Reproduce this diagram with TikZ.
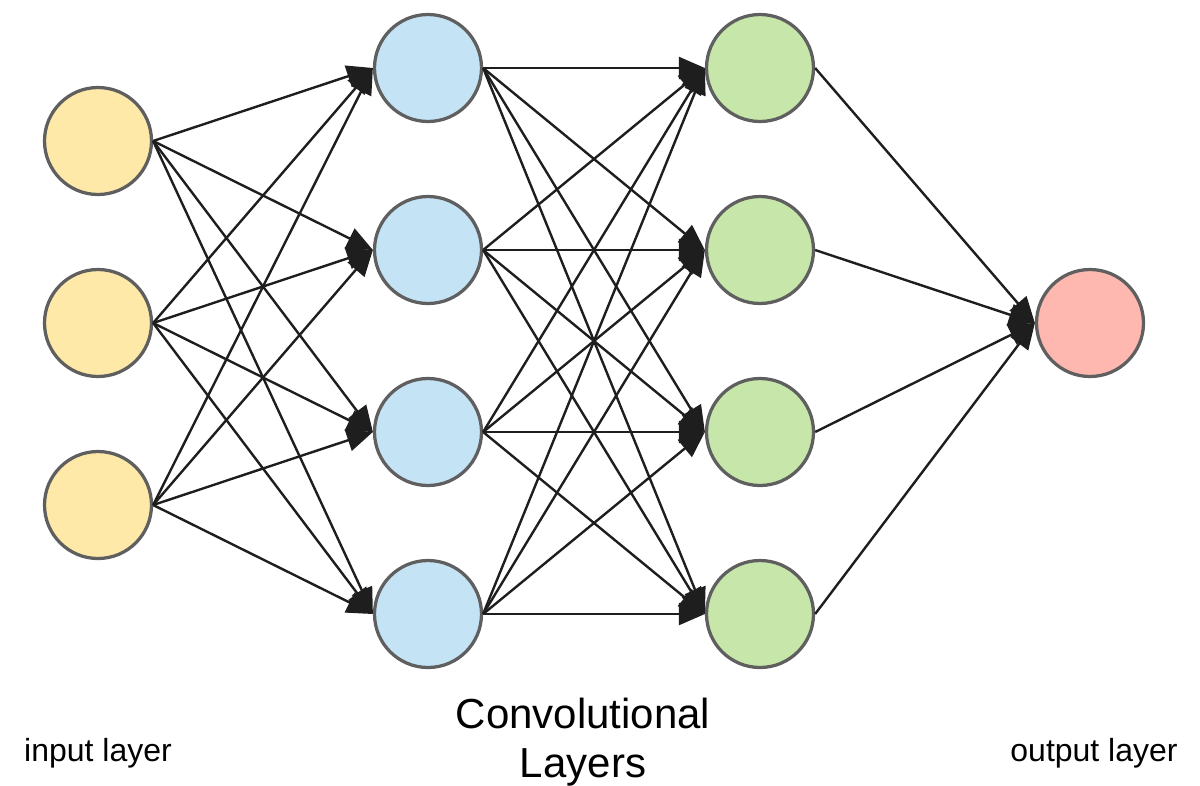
\documentclass[tikz,border=0pt]{standalone}
\usepackage{fontspec}
\setmainfont{Liberation Sans}
\usepackage{xcolor}
\usepackage{tikz}
\usetikzlibrary{arrows.meta}

\definecolor{inyellow}{HTML}{FEE9A8}
\definecolor{convblue}{HTML}{C4E3F5}
\definecolor{convgreen}{HTML}{C6E6AA}
\definecolor{outred}{HTML}{FFB8B0}
\definecolor{rimgray}{HTML}{5F5F5F}
\definecolor{wiredark}{HTML}{1E1E1E}

\tikzset{
  neuron/.style={circle, draw=rimgray, line width=0.065cm, minimum size=2.14cm, inner sep=0pt},
  wire/.style={draw=wiredark, line width=0.048cm, -{Triangle[length=0.52cm, width=0.44cm]}},
  lbl/.style={anchor=base, font=\fontsize{18.2}{22}\selectfont},
  biglbl/.style={anchor=base, font=\fontsize{23.9}{28}\selectfont}
}

\begin{document}
\begin{tikzpicture}
  \useasboundingbox (0,0) rectangle (24,-15.7);
  % input layer
  \node[neuron, fill=inyellow] (in1) at (1.96,-2.82) {};
  \node[neuron, fill=inyellow] (in2) at (1.96,-6.46) {};
  \node[neuron, fill=inyellow] (in3) at (1.96,-10.1) {};
  % convolutional layers
  \foreach \i/\y in {1/-1.36,2/-5.0,3/-8.64,4/-12.28} {
    \node[neuron, fill=convblue] (ca\i) at (8.56,\y) {};
    \node[neuron, fill=convgreen] (cb\i) at (15.2,\y) {};
  }
  % output layer
  \node[neuron, fill=outred] (out) at (21.8,-6.46) {};
  % connections
  \foreach \a in {1,2,3}
    \foreach \b in {1,2,3,4}
      \draw[wire] (in\a.east) -- (ca\b.west);
  \foreach \a in {1,2,3,4}
    \foreach \b in {1,2,3,4}
      \draw[wire] (ca\a.east) -- (cb\b.west);
  \foreach \a in {1,2,3,4}
    \draw[wire] (cb\a.east) -- (out.west);
  % labels
  \node[lbl] (inlbl) at (1.96,-15.22) {input layer};
  \node[biglbl] (convlbl) at (11.66,-14.56) {Convolutional};
  \node[biglbl] (layerslbl) at (11.66,-15.54) {Layers};
  \node[lbl] (outlbl) at (21.88,-15.22) {output layer};
\end{tikzpicture}
\end{document}
